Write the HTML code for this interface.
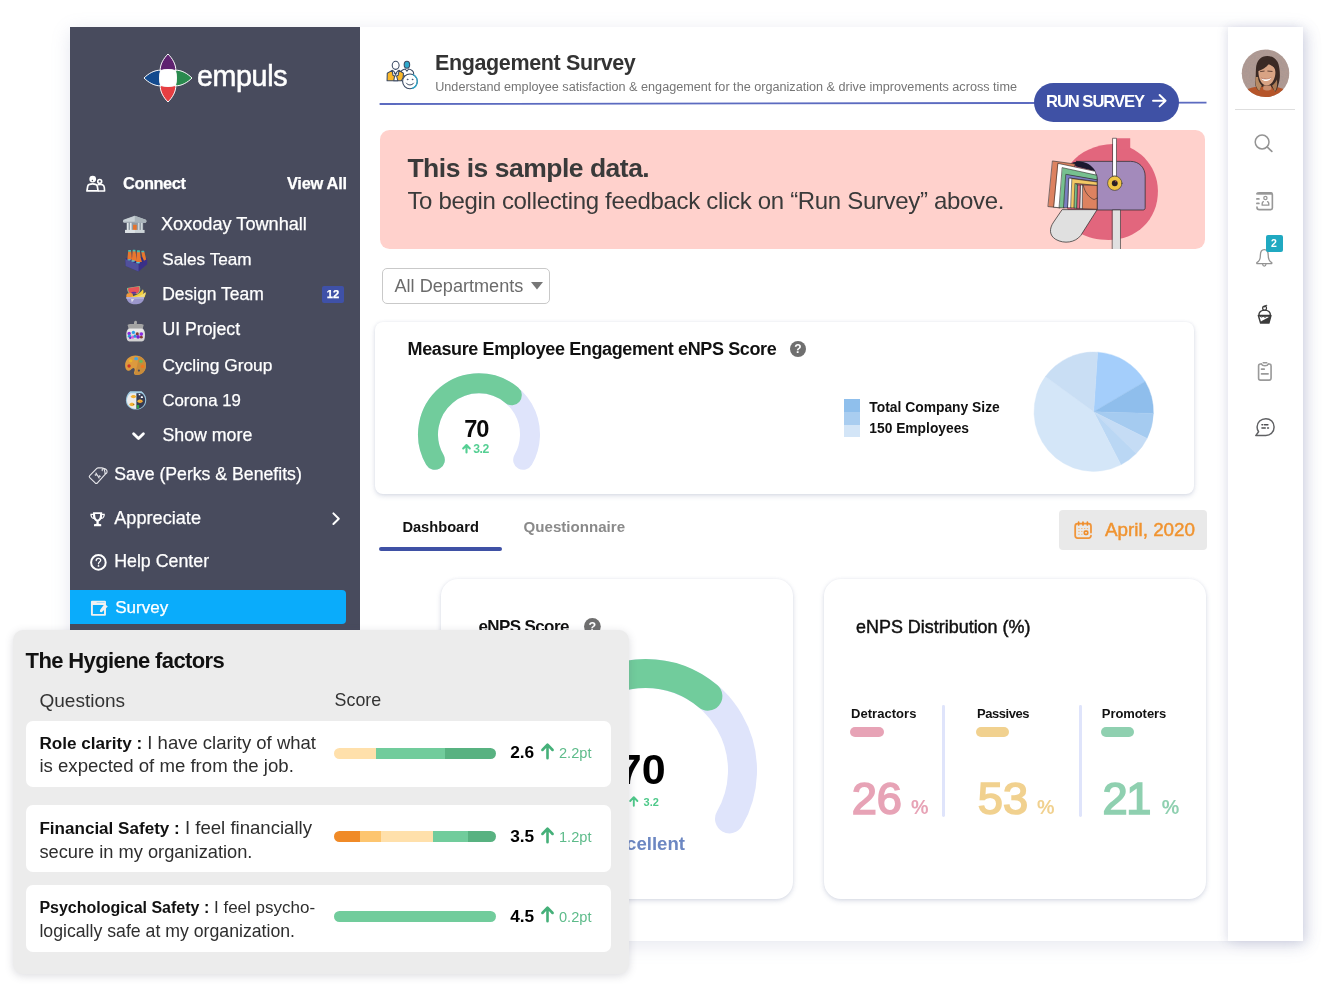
<!DOCTYPE html>
<html lang="en">
<head>
<meta charset="utf-8">
<title>Engagement Survey</title>
<style>
*{box-sizing:border-box;margin:0;padding:0}
html,body{width:1332px;height:987px;background:#fff;overflow:hidden}
body{font-family:"Liberation Sans",sans-serif;position:relative;color:#222}
.abs{position:absolute}
.t{position:absolute;white-space:nowrap;line-height:1}
svg{position:absolute;overflow:visible}
#win{position:absolute;left:70px;top:27px;width:1233px;height:914px;background:#fff;box-shadow:0 4px 18px rgba(125,135,175,.2)}
#side{position:absolute;left:70px;top:27px;width:290px;height:914px;background:#484b5d}
#side .t{color:#fff;-webkit-text-stroke:0.25px #fff}
#main{position:absolute;left:0;top:0;width:1332px;height:987px}
#rbar{position:absolute;left:1228px;top:27px;width:75px;height:914px;background:#fff;box-shadow:-3px 0 8px rgba(120,130,170,.15),5px 3px 12px rgba(120,130,170,.18)}
.card{position:absolute;background:#fff;box-shadow:0 2px 5px rgba(110,120,160,.24),0 0 3px rgba(110,120,160,.1)}
#hyg{position:absolute;left:12.8px;top:630.1px;width:616.6px;height:344.1px;background:#ececec;border-radius:10px;box-shadow:0 2px 9px rgba(80,80,100,.2)}
.row{position:absolute;left:14px;width:586px;background:#fff;border-radius:7px}
.bar{position:absolute;width:162px;height:11px;border-radius:6px;overflow:hidden;display:flex}
.bar i{display:block;height:11px}
.emo{position:absolute;font-size:20px;line-height:1}
</style>
</head>
<body>
<div id="win"></div>
<div id="side">
<svg style="left:73.5px;top:26.8px" width="48" height="48" viewBox="0 0 48 48"><g stroke="#fff" stroke-width="1" stroke-linejoin="round">
<path d="M24 0 C28.6 4.6 32 10.5 31.8 16.6 C27 15.2 21 15.2 16.2 16.6 C16 10.5 19.4 4.6 24 0Z" fill="#5f2370"/>
<path d="M48 24 C43.4 28.6 37.5 32 31.4 31.8 C32.8 27 32.8 21 31.4 16.2 C37.5 16 43.4 19.4 48 24Z" fill="#2a8a4e"/>
<path d="M24 48 C19.4 43.4 16 37.5 16.2 31.4 C21 32.8 27 32.8 31.8 31.4 C32 37.5 28.6 43.4 24 48Z" fill="#e63e42"/>
<path d="M0 24 C4.6 19.4 10.5 16 16.6 16.2 C15.2 21 15.2 27 16.6 31.8 C10.5 32 4.6 28.6 0 24Z" fill="#134a8e"/>
</g>
<path d="M16.4 16.4 C21 15 27 15 31.6 16.4 C33 21 33 27 31.6 31.6 C27 33 21 33 16.4 31.6 C15 27 15 21 16.4 16.4Z" fill="#fff"/></svg>
<div class="t" style="top:33.0px;font-size:28.6px;line-height:32px;left:127px;letter-spacing:-0.35px;-webkit-text-stroke:0.55px #fff;">empuls</div>
<svg style="left:6.0px;top:137.0px" width="40" height="40" viewBox="0 0 40 40"><g transform="scale(0.040527)" fill="none" stroke="#fff" stroke-linejoin="round" stroke-linecap="round">
<circle cx="412" cy="372" r="62" stroke-width="44" fill="#fff"/>
<circle cx="405" cy="405" r="18" fill="#484b5d" stroke="none"/>
<path d="M270 665 L290 545 C300 505 330 490 410 490 C490 490 515 505 525 545 L545 665 Z" stroke-width="42"/>
<circle cx="585" cy="430" r="48" stroke-width="40"/>
<path d="M545 510 C640 490 690 520 698 575 L705 665 L560 665" stroke-width="40"/>
</g></svg>
<div class="t" style="top:147.0px;font-size:16.4px;line-height:18px;left:53px;font-weight:bold;letter-spacing:-0.45px;">Connect</div>
<div class="t" style="top:147.0px;font-size:16.4px;line-height:18px;left:217px;font-weight:bold;letter-spacing:-0.28px;">View All</div>
<div class="t" style="top:187.0px;font-size:18.15px;line-height:20px;left:91px;">Xoxoday Townhall</div>
<div class="t" style="top:222.0px;font-size:17.21px;line-height:20px;left:92.19999999999999px;">Sales Team</div>
<div class="t" style="top:257.0px;font-size:17.48px;line-height:20px;left:92.19999999999999px;">Design Team</div>
<div class="t" style="top:292.0px;font-size:17.72px;line-height:20px;left:92.4px;">UI Project</div>
<div class="t" style="top:328.0px;font-size:17.36px;line-height:20px;left:92.4px;">Cycling Group</div>
<div class="t" style="top:364.0px;font-size:16.81px;line-height:19px;left:92.4px;">Corona 19</div>
<div class="t" style="top:398.0px;font-size:17.79px;line-height:20px;left:92.4px;">Show more</div>
<svg style="left:45.0px;top:178.0px" width="40" height="40" viewBox="0 0 40 40"><g transform="scale(0.040527)">
<path d="M230 440 C190 440 180 380 225 360 L485 265 L745 360 C790 380 780 440 740 440Z" fill="#bcc5cb"/>
<path d="M485 265 L745 360 C790 380 780 440 740 440 L485 440Z" fill="#aab4ba"/>
<path d="M250 395 C215 395 215 365 250 355 L485 275 L485 395Z" fill="#c9d1d6"/>
<rect x="285" y="440" width="410" height="180" fill="#8f9aa3"/>
<rect x="295" y="440" width="40" height="180" fill="#e1e6e9"/><rect x="370" y="440" width="40" height="180" fill="#e1e6e9"/>
<rect x="565" y="440" width="40" height="180" fill="#cfd6da"/><rect x="640" y="440" width="40" height="180" fill="#cfd6da"/>
<rect x="445" y="490" width="90" height="150" rx="8" fill="#e5732d"/>
<path d="M250 615 L730 615 L730 690 L250 690Z" fill="#cdd4d8"/>
<path d="M250 615 L490 615 L490 690 L250 690Z" fill="#dde2e5"/>
</g></svg>
<svg style="left:46.0px;top:213.0px" width="40" height="40" viewBox="0 0 40 40"><g transform="scale(0.040527)">
<path d="M230 470 L560 600 L770 460 L770 600 L555 780 L240 640Z" fill="#3a3088"/>
<path d="M230 470 L560 600 L555 780 L240 640Z" fill="#50509c"/>
<path d="M230 470 L440 360 L770 460 L560 600Z" fill="#2f2a80"/>
<path d="M625 290 L700 290 L745 480 L690 510 L650 420Z" fill="#e8772e"/>
<path d="M300 280 L375 280 L395 480 L280 480Z" fill="#e8772e"/>
<path d="M410 270 L480 270 L500 400 L520 520 L390 510Z" fill="#e8772e"/>
<path d="M515 285 L590 285 L610 440 L640 540 L500 545Z" fill="#e8772e"/>
<rect x="300" y="245" width="72" height="45" rx="10" fill="#45bdb0"/><rect x="412" y="238" width="68" height="45" rx="10" fill="#45bdb0"/>
<rect x="517" y="250" width="72" height="50" rx="10" fill="#45bdb0"/><rect x="625" y="265" width="72" height="35" rx="10" fill="#45bdb0"/>
<ellipse cx="330" cy="490" rx="50" ry="18" fill="#6ccfd0"/><ellipse cx="420" cy="520" rx="50" ry="18" fill="#6ccfd0"/><ellipse cx="545" cy="560" rx="55" ry="20" fill="#6ccfd0"/>
</g></svg>
<svg style="left:46.0px;top:248.0px" width="40" height="40" viewBox="0 0 40 40"><g transform="scale(0.040527)">
<path d="M275 320 C370 300 480 290 585 270 C615 340 600 420 540 470 L330 460 C285 420 270 370 275 320Z" fill="#8fc98a"/>
<path d="M298 325 C380 310 480 300 572 285 C592 345 580 410 530 455 L345 450 C305 415 292 370 298 325Z" fill="#e85458"/>
<ellipse cx="440" cy="440" rx="65" ry="28" fill="#6a2f9a"/>
<path d="M255 500 C265 450 320 430 380 450 C430 470 440 540 400 580 L270 570 C255 550 250 525 255 500Z" fill="#f29a3c"/>
<path d="M380 530 C500 510 610 440 665 350 C690 400 680 450 650 490 C690 470 715 445 730 420 C740 470 720 520 690 560 L400 590Z" fill="#f4d13c"/>
<path d="M400 560 C520 550 640 500 725 425 C735 470 715 520 690 560 L400 590Z" fill="#f2dc78"/>
<path d="M250 548 L695 548 L690 590 C660 690 570 720 470 720 C370 720 290 680 265 590Z" fill="#9b97cc"/>
<path d="M250 548 L695 548 L688 585 L258 585Z" fill="#b9b6dc"/>
<path d="M370 590 L450 590 L390 680Z" fill="#dcdce8"/>
</g></svg>
<svg style="left:46.0px;top:284.0px" width="40" height="40" viewBox="0 0 40 40"><g transform="scale(0.040527)">
<path d="M445 330 C440 270 450 240 485 240 C520 240 525 270 510 330Z" fill="#a9a9a9"/>
<path d="M290 350 C290 325 310 320 485 320 C660 320 680 325 680 350 L660 440 L310 440Z" fill="#a3a3a3"/>
<path d="M310 430 L660 430 C700 470 720 520 715 600 C712 700 690 745 640 745 L330 745 C280 745 258 700 255 600 C250 520 270 470 310 430Z" fill="#dcdcdc"/>
<path d="M330 440 L640 440 C660 460 675 490 680 520 L290 520 C295 490 310 460 330 440Z" fill="#e9e9e9"/>
<g><circle cx="325" cy="555" r="42" fill="#8a2be2"/><circle cx="430" cy="530" r="40" fill="#2a9fe8"/><circle cx="525" cy="565" r="38" fill="#8a3a32"/><circle cx="625" cy="570" r="45" fill="#8a2be2"/>
<circle cx="335" cy="620" r="42" fill="#2a9fd8"/><circle cx="410" cy="645" r="40" fill="#d060e0"/><circle cx="470" cy="620" r="38" fill="#2a8fe0"/><circle cx="545" cy="640" r="45" fill="#7a1fd0"/><circle cx="625" cy="645" r="36" fill="#8a3a32"/><circle cx="350" cy="665" r="28" fill="#7a1fd0"/></g>
<path d="M270 690 C285 735 305 745 330 745 L640 745 C665 745 685 735 700 690Z" fill="#d2d2d2"/>
</g></svg>
<svg style="left:46.0px;top:319.0px" width="40" height="40" viewBox="0 0 40 40"><g transform="scale(0.040527)">
<path d="M480 235 C640 235 745 350 740 480 C735 620 640 715 520 715 C465 715 430 690 445 650 C470 600 470 550 430 545 C390 545 370 610 320 612 C260 612 225 550 225 480 C225 340 330 235 480 235Z" fill="#dc9a3e"/>
<path d="M560 260 C670 290 745 380 740 480 C735 620 640 715 520 715 C490 715 465 705 452 690 C520 560 540 400 560 260Z" fill="#c98c3a"/>
<circle cx="565" cy="607" r="27" fill="#484b5d"/>
<ellipse cx="497" cy="313" rx="50" ry="40" fill="#4aa3e0"/><ellipse cx="362" cy="362" rx="42" ry="38" fill="#eab527"/><ellipse cx="615" cy="378" rx="45" ry="40" fill="#6cb85a"/>
<ellipse cx="322" cy="492" rx="42" ry="42" fill="#cc3328"/><ellipse cx="655" cy="503" rx="42" ry="42" fill="#f2761f"/>
</g></svg>
<svg style="left:46.0px;top:354.0px" width="40" height="40" viewBox="0 0 40 40"><g transform="scale(0.040527)">
<path d="M350 262 L630 262 C700 300 748 390 745 480 C740 610 640 705 495 705 C350 705 250 610 245 480 C242 390 285 300 350 262Z" fill="#9cc9e0"/>
<path d="M360 300 L505 300 L505 690 C370 690 275 600 270 480 C268 400 305 330 360 300Z" fill="#ececec"/>
<path d="M505 300 L625 300 C685 335 722 400 720 480 C716 595 625 688 505 690Z" fill="#363b52"/>
<path d="M350 262 L630 262 C645 270 655 280 665 292 L318 292 C328 280 338 270 350 262Z" fill="#a9d3e8"/>
<path d="M360 385 C390 330 470 330 505 385 C470 440 390 440 360 385Z" fill="#f2b233"/>
<path d="M325 580 C355 520 430 520 465 580 C430 635 355 635 325 580Z" fill="#f2b233"/>
<path d="M520 500 C550 440 635 440 665 500 C635 555 550 555 520 500Z" fill="#f2b233"/>
<circle cx="430" cy="575" r="12" fill="#4a3a2a"/><circle cx="610" cy="505" r="14" fill="#e8703a"/>
<rect x="560" y="318" width="40" height="36" rx="8" fill="#fff"/><rect x="612" y="378" width="52" height="44" rx="10" fill="#fff"/>
<rect x="515" y="595" width="55" height="85" rx="10" fill="#2ea043"/>
</g></svg>
<div class="abs" style="left:252px;top:259px;width:22px;height:17px;background:#3f51a8;border-radius:2px"></div>
<div class="t" style="top:261.0px;font-size:11.2px;line-height:12px;left:256.8px;font-weight:bold;">12</div>
<svg style="left:62.0px;top:404.6px" width="13" height="9" viewBox="0 0 13 9"><path d="M1.6 1.8 L6.5 6.6 L11.4 1.8" fill="none" stroke="#fff" stroke-width="2.8" stroke-linecap="round" stroke-linejoin="round"/></svg>
<svg style="left:10.0px;top:428.0px" width="40" height="40" viewBox="0 0 40 40"><g transform="scale(0.040527)" fill="none" stroke="#e6e6ea" stroke-width="28" stroke-linejoin="round" stroke-linecap="round">
<path d="M240 510 C225 525 225 545 240 560 L375 690 C392 705 412 705 430 690 L625 470 L600 360 C590 330 570 318 540 318 L450 318 C435 318 425 322 415 332 Z"/>
<path d="M548 385 C540 350 560 325 600 335 C640 345 680 385 665 430 C655 460 635 470 620 455"/>
<path d="M395 445 L470 570" stroke-width="26"/><circle cx="385" cy="490" r="16" stroke-width="22"/><circle cx="478" cy="525" r="16" stroke-width="22"/>
</g></svg>
<div class="t" style="top:437.0px;font-size:17.68px;line-height:20px;left:44.2px;">Save (Perks &amp; Benefits)</div>
<svg style="left:20.3px;top:485.4px" width="15.2" height="14.6" viewBox="0 0 16 16.8" preserveAspectRatio="none"><path d="M3.2 0.4 L12.8 0.4 L12.8 2 L15.6 2 C15.8 5.4 14.6 7.6 12 8.2 C11.2 9.6 10.2 10.4 9.2 10.8 L9.2 13.4 L11.8 14 L11.8 16.4 L4.2 16.4 L4.2 14 L6.8 13.4 L6.8 10.8 C5.8 10.4 4.8 9.6 4 8.2 C1.4 7.6 0.2 5.4 0.4 2 L3.2 2Z M1.8 3.4 C1.8 5 2.4 6.2 3.4 6.6 C3.2 5.6 3.2 4.6 3.2 3.4Z M14.2 3.4 L12.8 3.4 C12.8 4.6 12.8 5.6 12.6 6.6 C13.6 6.2 14.2 5 14.2 3.4Z M5.4 2.2 C5.4 5.6 6.2 8.6 8 8.6 C9.8 8.6 10.6 5.6 10.6 2.2Z" fill="#fff" fill-rule="evenodd"/></svg>
<div class="t" style="top:481.0px;font-size:18.16px;line-height:20px;left:44.2px;">Appreciate</div>
<svg style="left:262.2px;top:484.6px" width="8.4" height="13.4" viewBox="0 0 8.4 13.4"><path d="M1.4 1.4 L6.8 6.7 L1.4 12" fill="none" stroke="#fff" stroke-width="2" stroke-linecap="round" stroke-linejoin="round"/></svg>
<svg style="left:19.6px;top:526.6px" width="16.8" height="16.8" viewBox="0 0 16.8 16.8"><circle cx="8.4" cy="8.4" r="7.3" fill="none" stroke="#fff" stroke-width="2"/>
<path d="M6.2 6.6 C6.2 5.2 7.2 4.4 8.5 4.4 C9.8 4.4 10.7 5.2 10.7 6.3 C10.7 7.8 8.5 8 8.5 9.8" fill="none" stroke="#fff" stroke-width="1.3" stroke-linecap="round"/><circle cx="8.5" cy="11.9" r="0.9" fill="#fff"/></svg>
<div class="t" style="top:524.0px;font-size:17.8px;line-height:20px;left:44.2px;">Help Center</div>
<div class="abs" style="left:0;top:562.9px;width:275.8px;height:34.4px;background:#0aacfb;border-radius:0 4px 4px 0"></div>
<svg style="left:9.0px;top:561.0px" width="40" height="40" viewBox="0 0 40 40"><g transform="scale(0.040527)">
<path d="M320 315 L640 315 C656 315 665 324 665 340 L665 660 C665 676 656 685 640 685 L320 685 C304 685 295 676 295 660 L295 340 C295 324 304 315 320 315Z M342 420 L342 640 L618 640 L618 420Z" fill="#f1f1f1" fill-rule="evenodd"/>
<path d="M445 357 L620 357" stroke="#9ddcfb" stroke-width="22" stroke-linecap="round"/>
<path d="M610 420 L665 420 L710 458 L560 600 L515 585 L520 540Z" fill="#f1f1f1"/>
</g></svg>
<div class="t" style="top:571.0px;font-size:17.03px;line-height:19px;left:45.2px;">Survey</div>
</div>
<div id="main">
<svg style="left:382.0px;top:55.0px" width="40" height="40" viewBox="0 0 40 40"><g transform="scale(0.040527)" stroke="#3b4a63" stroke-width="26" stroke-linejoin="round" stroke-linecap="round">
<path d="M470 400 C500 370 540 350 575 345 L615 400 L655 345 C720 360 775 395 780 445 L780 520 L520 520Z" fill="#fff"/>
<ellipse cx="615" cy="240" rx="68" ry="85" fill="#2fa9cc"/>
<path d="M125 635 L130 450 L250 380 L335 470 L420 380 L530 450 L520 560 L480 635Z" fill="#fbb829"/>
<path d="M250 380 L290 400 L335 470 L380 400 L420 380 L400 500 L360 520 L390 635 L290 635 L310 520 L270 500Z" fill="#fff"/>
<path d="M300 450 L335 490 L370 450 M335 490 L335 520" fill="none" stroke-width="20"/>
<ellipse cx="337" cy="255" rx="85" ry="100" fill="#fff"/>
<circle cx="690" cy="650" r="182" fill="#fff" stroke-width="28"/>
<circle cx="630" cy="602" r="12" fill="#3b4a63" stroke-width="14"/><circle cx="752" cy="602" r="12" fill="#3b4a63" stroke-width="14"/>
<path d="M600 695 C640 755 740 755 780 695" fill="none" stroke-width="24"/>
</g>
<g transform="scale(0.040527)"><path d="M770 487 A182 182 0 0 1 745 823" fill="none" stroke="#2fa9cc" stroke-width="30" stroke-linecap="round"/></g></svg>
<div class="t" style="top:51.0px;font-size:21.5px;line-height:24px;left:435px;font-weight:bold;color:#333;letter-spacing:-0.37px;">Engagement Survey</div>
<div class="t" style="top:80.0px;font-size:12.65px;line-height:14px;left:435.2px;color:#757575;">Understand employee satisfaction &amp; engagement for the organization &amp; drive improvements across time</div>
<svg style="left:0.0px;top:0.0px" width="1332" height="200" viewBox="0 0 1332 200"><path d="M379.6 104 L1206.5 102.7" stroke="#5c6bc0" stroke-width="1.8"/></svg>
<div class="abs" style="left:1034px;top:82.7px;width:144.8px;height:39.6px;background:#3f51a5;border-radius:20px"></div>
<div class="t" style="top:92.0px;font-size:16.6px;line-height:19px;left:1046px;font-weight:bold;color:#fff;letter-spacing:-1.05px;">RUN SURVEY</div>
<svg style="left:1151.6px;top:94.4px" width="15" height="13.4" viewBox="0 0 15 13.4"><path d="M1 6.7 L13.4 6.7 M7.6 1 L13.6 6.7 L7.6 12.4" fill="none" stroke="#fff" stroke-width="1.9" stroke-linecap="round" stroke-linejoin="round"/></svg>
<div class="abs" style="left:379.7px;top:129.8px;width:825.6px;height:119.3px;background:#ffd1cc;border-radius:9.5px"></div>
<div class="t" style="top:153.0px;font-size:26.5px;line-height:30px;left:407.4px;font-weight:bold;color:#3a3a3a;letter-spacing:-0.5px;">This is sample data.</div>
<div class="t" style="top:187.0px;font-size:24px;line-height:27px;left:407.4px;color:#3a3a3a;letter-spacing:-0.32px;">To begin collecting feedback click on “Run Survey” above.</div>
<svg style="left:1040px;top:130px;overflow:hidden" width="165" height="119" viewBox="0 0 165 119"><g transform="scale(0.12158)" stroke-linejoin="round" stroke-linecap="round">
<path d="M255 272 C330 180 460 118 600 116 C800 118 968 290 970 500 C972 740 790 905 565 905 C470 905 390 885 330 850 L200 600Z" fill="#e2667d"/>
<rect x="628" y="68" width="114" height="92" fill="#e2667d"/>
<path d="M185 655 L470 655 L335 868 C290 925 200 940 130 900 C75 868 75 810 110 760Z" fill="#e0e0e0" stroke="#2b2b2b" stroke-width="6"/>
<path d="M300 258 L745 258 C815 258 865 310 865 380 L865 640 C865 652 858 658 846 658 L470 658 L470 400 C460 330 400 270 300 258Z" fill="#a38abb" stroke="#2b2b2b" stroke-width="6"/>
<path d="M262 272 C330 240 420 270 455 340 L300 300Z" fill="#1c1830"/>
<g stroke="#2b2b2b" stroke-width="5">
<path d="M105 255 L290 280 L160 640 L68 630Z" fill="#dd8260"/>
<path d="M150 275 L455 340 L462 375 L200 330 L165 640 L115 635Z" fill="#fff"/>
<path d="M185 310 L468 372 L470 412 L225 370 L200 640 L160 640Z" fill="#76c08f"/>
<path d="M215 365 L470 410 L470 425 L245 395 L232 640 L196 640Z" fill="#7b7fc0"/>
<path d="M240 395 L275 400 L262 640 L230 640Z" fill="#fff"/>
<path d="M265 400 L470 428 L470 456 L300 440 L285 642 L255 640Z" fill="#f3c864"/>
<path d="M290 440 L312 452 L305 645 L282 642Z" fill="#76c08f"/>
<path d="M310 452 L335 452 L330 645 L305 645Z" fill="#e2667d"/>
<path d="M335 452 L356 452 L352 647 L330 645Z" fill="#fff"/>
<path d="M352 452 L470 456 L470 652 L350 647Z" fill="#dd8260"/>
<path d="M356 456 C370 520 410 560 445 572 L470 560" fill="none"/>
</g>
<rect x="597" y="658" width="65" height="340" fill="#e0e0e0" stroke="#2b2b2b" stroke-width="5"/>
<rect x="600" y="68" width="29" height="312" fill="#fff" stroke="#2b2b2b" stroke-width="5"/>
<circle cx="615" cy="438" r="59" fill="#f0c544" stroke="#2b2b2b" stroke-width="5"/>
<circle cx="615" cy="438" r="24" fill="#2a2024"/>
<circle cx="624" cy="424" r="5" fill="#c8506a"/>
</g></svg>
<div class="abs" style="left:382px;top:268.4px;width:168px;height:35.6px;border:1px solid #c9c9c9;border-radius:5px;background:#fff"></div>
<div class="t" style="top:276.0px;font-size:18.11px;line-height:20px;left:394.5px;color:#6b6b6b;">All Departments</div>
<svg style="left:530.8px;top:282.0px" width="12" height="7.4" viewBox="0 0 12 7.4"><path d="M0 0 L12 0 L6 7.4Z" fill="#777"/></svg>
<div class="card" style="left:374.5px;top:322px;width:819.6px;height:171.5px;border-radius:8px"></div>
<div class="t" style="top:339.0px;font-size:18px;line-height:20px;left:407.6px;font-weight:bold;color:#111;letter-spacing:-0.38px;">Measure Employee Engagement eNPS Score</div>
<svg style="left:789.5px;top:340.6px" width="16" height="16" viewBox="0 0 16 16"><circle cx="8" cy="8" r="8" fill="#6f6f6f"/><text x="8" y="12.4" font-family="Liberation Sans,sans-serif" font-weight="bold" font-size="12.0" fill="#fff" text-anchor="middle">?</text></svg>
<svg style="left:410.0px;top:366.0px" width="140" height="112" viewBox="0 0 140 112"><path d="M24.83 93.80 A51 51 0 1 1 113.17 93.80" fill="none" stroke="#dfe4fb" stroke-width="20" stroke-linecap="round"/><path d="M24.83 93.80 A51 51 0 0 1 101.78 29.23" fill="none" stroke="#71cc9c" stroke-width="20" stroke-linecap="round"/></svg>
<div class="t" style="top:416.0px;font-size:23.6px;line-height:26px;left:464.2px;font-weight:bold;color:#0a0a0a;letter-spacing:-1px;">70</div>
<svg style="left:462.4px;top:444.2px" width="9" height="9" viewBox="0 0 9 9"><path d="M4.5 8.4 L4.5 1.4 M1.2 4.4 L4.5 1 L7.8 4.4" fill="none" stroke="#55cf93" stroke-width="2.1" stroke-linecap="round" stroke-linejoin="round"/></svg>
<div class="t" style="top:442.0px;font-size:12.2px;line-height:14px;left:473.2px;font-weight:bold;color:#55cf93;letter-spacing:-0.4px;">3.2</div>
<div class="abs" style="left:844px;top:399px;width:15.8px;height:13px;background:#8fbfec"></div>
<div class="abs" style="left:844px;top:412px;width:15.8px;height:13px;background:#a9cdf0"></div>
<div class="abs" style="left:844px;top:425px;width:15.8px;height:12.4px;background:#d3e5f7"></div>
<div class="t" style="top:399.0px;font-size:13.85px;line-height:16px;left:869.3px;font-weight:bold;color:#111;">Total Company Size</div>
<div class="t" style="top:421.0px;font-size:13.8px;line-height:15px;left:869.3px;font-weight:bold;color:#111;">150 Employees</div>
<svg style="left:1034.0px;top:351.6px" width="119.4" height="119.4" viewBox="0 0 119.4 119.4"><path d="M59.7 59.7 L63.66 0.13 A59.7 59.7 0 0 1 111.14 29.40Z" fill="#a4cefb" stroke="#a4cefb" stroke-width="0.4"/><path d="M59.7 59.7 L111.14 29.40 A59.7 59.7 0 0 1 119.37 61.47Z" fill="#8fbeec" stroke="#8fbeec" stroke-width="0.4"/><path d="M59.7 59.7 L119.37 61.47 A59.7 59.7 0 0 1 113.08 86.43Z" fill="#a5cbf0" stroke="#a5cbf0" stroke-width="0.4"/><path d="M59.7 59.7 L113.08 86.43 A59.7 59.7 0 0 1 102.21 101.62Z" fill="#c5dcf5" stroke="#c5dcf5" stroke-width="0.4"/><path d="M59.7 59.7 L102.21 101.62 A59.7 59.7 0 0 1 86.90 112.85Z" fill="#bad7f4" stroke="#bad7f4" stroke-width="0.4"/><path d="M59.7 59.7 L86.90 112.85 A59.7 59.7 0 0 1 11.40 24.61Z" fill="#d4e6f8" stroke="#d4e6f8" stroke-width="0.4"/><path d="M59.7 59.7 L11.40 24.61 A59.7 59.7 0 0 1 63.66 0.13Z" fill="#c9def4" stroke="#c9def4" stroke-width="0.4"/></svg>
<div class="t" style="top:519.0px;font-size:14.65px;line-height:16px;left:402.4px;font-weight:bold;color:#111;">Dashboard</div>
<div class="abs" style="left:379.2px;top:546.8px;width:122.9px;height:4.6px;background:#3f51a5;border-radius:2.3px"></div>
<div class="t" style="top:518.0px;font-size:15.1px;line-height:17px;left:523.6px;font-weight:bold;color:#8a8a8a;">Questionnaire</div>
<div class="abs" style="left:1059.3px;top:510.3px;width:147.4px;height:39.4px;background:#e9e9e9;border-radius:4px"></div>
<div class="t" style="top:519.0px;font-size:18.83px;line-height:21px;left:1105px;color:#f0932f;-webkit-text-stroke:0.45px #f0932f;">April, 2020</div>
<svg style="left:1062.0px;top:510.0px" width="40" height="40" viewBox="0 0 40 40"><g transform="scale(0.040527)" fill="none" stroke="#f0953a" stroke-linecap="round" stroke-linejoin="round">
<path d="M715 555 L715 400 C715 360 690 338 655 338 L385 338 C350 338 325 360 325 400 L325 630 C325 670 350 692 385 692 L655 692 C690 692 712 670 715 635" stroke-width="44"/>
<path d="M410 300 L410 370 M518 300 L518 370 M627 300 L627 370" stroke-width="42" stroke="#ef8d2a"/>
<path d="M410 458 L426 458 M482 458 L496 458 M552 458 L566 458 M622 458 L636 458 M410 528 L426 528 M482 528 L496 528 M410 600 L426 600 M482 600 L496 600" stroke-width="24" stroke="#f6b570"/>
<rect x="552" y="519" width="82" height="82" rx="22" stroke-width="42" stroke="#ef8d2a"/>
</g></svg>
<div class="card" style="left:440.7px;top:578.6px;width:352.5px;height:320px;border-radius:17px"></div>
<div class="t" style="top:617.0px;font-size:17px;line-height:19px;left:478.4px;font-weight:bold;color:#111;letter-spacing:-0.6px;">eNPS Score</div>
<svg style="left:584.0px;top:618.2px" width="16.8" height="16.8" viewBox="0 0 16.8 16.8"><circle cx="8.4" cy="8.4" r="8.4" fill="#6f6f6f"/><text x="8.4" y="13.0" font-family="Liberation Sans,sans-serif" font-weight="bold" font-size="12.6" fill="#fff" text-anchor="middle">?</text></svg>
<svg style="left:530.0px;top:655.0px" width="240" height="190" viewBox="0 0 240 190"><path d="M31.68 163.85 A96.9 96.9 0 1 1 199.52 163.85" fill="none" stroke="#dfe4fb" stroke-width="29" stroke-linecap="round"/><path d="M31.68 163.85 A96.9 96.9 0 0 1 177.89 41.17" fill="none" stroke="#71cc9c" stroke-width="29" stroke-linecap="round"/></svg>
<div class="t" style="top:745.0px;font-size:43px;line-height:48px;right:666.4px;font-weight:bold;color:#000;">70</div>
<svg style="left:629.0px;top:796.0px" width="9.6" height="10.6" viewBox="0 0 9.6 10.6"><path d="M4.8 9.8 L4.8 1.6 M1.2 5 L4.8 1.2 L8.4 5" fill="none" stroke="#4fc98a" stroke-width="1.9" stroke-linecap="round" stroke-linejoin="round"/></svg>
<div class="t" style="top:796.0px;font-size:11px;line-height:12px;left:643.6px;font-weight:bold;color:#4fc98a;">3.2</div>
<div class="t" style="top:833.0px;font-size:18.6px;line-height:21px;right:647px;font-weight:bold;color:#6c87c2;">Excellent</div>
<div class="card" style="left:824px;top:578.6px;width:381.7px;height:320px;border-radius:17px"></div>
<div class="t" style="top:617.0px;font-size:17.95px;line-height:20px;left:856px;color:#111;-webkit-text-stroke:0.45px #111;">eNPS Distribution (%)</div>
<div class="t" style="top:706.0px;font-size:13px;line-height:15px;left:851px;font-weight:bold;color:#111;letter-spacing:0.04px;">Detractors</div>
<div class="abs" style="left:850px;top:727.4px;width:33.8px;height:9.3px;background:#e7a3b6;border-radius:5px"></div>
<div class="t" style="top:773.0px;font-size:45.2px;line-height:51px;left:851.7px;color:#e7a3b6;-webkit-text-stroke:1.7px #e7a3b6;letter-spacing:0px;">26</div>
<div class="t" style="top:796.0px;font-size:19.7px;line-height:22px;left:911px;font-weight:bold;color:#e7a3b6;">%</div>
<div class="t" style="top:706.0px;font-size:13px;line-height:15px;left:977px;font-weight:bold;color:#111;letter-spacing:-0.46px;">Passives</div>
<div class="abs" style="left:975.7px;top:727.4px;width:33.8px;height:9.3px;background:#f1d18f;border-radius:5px"></div>
<div class="t" style="top:773.0px;font-size:45.2px;line-height:51px;left:977.8px;color:#f1d18f;-webkit-text-stroke:1.7px #f1d18f;letter-spacing:0px;">53</div>
<div class="t" style="top:796.0px;font-size:19.7px;line-height:22px;left:1037px;font-weight:bold;color:#f1d18f;">%</div>
<div class="t" style="top:706.0px;font-size:13px;line-height:15px;left:1101.8px;font-weight:bold;color:#111;letter-spacing:-0.07px;">Promoters</div>
<div class="abs" style="left:1100.7px;top:727.4px;width:33.8px;height:9.3px;background:#8fd0b0;border-radius:5px"></div>
<div class="t" style="top:773.0px;font-size:45.2px;line-height:51px;left:1102.5px;color:#8fd0b0;-webkit-text-stroke:1.7px #8fd0b0;letter-spacing:-1.5px;">21</div>
<div class="t" style="top:796.0px;font-size:19.7px;line-height:22px;left:1161.7px;font-weight:bold;color:#8fd0b0;">%</div>
<div class="abs" style="left:942px;top:705.4px;width:2.7px;height:112px;background:#dfe4fb;border-radius:1.4px"></div>
<div class="abs" style="left:1079.4px;top:705.4px;width:2.7px;height:112px;background:#dfe4fb;border-radius:1.4px"></div>
</div>
<div id="rbar">
<svg style="left:7.0px;top:16.0px" width="60" height="60" viewBox="0 0 60 60"><defs><clipPath id="avc"><circle cx="502" cy="499" r="391"/></clipPath>
<filter id="avn" x="0" y="0" width="100%" height="100%"><feTurbulence type="fractalNoise" baseFrequency="0.035" numOctaves="2" seed="3"/><feColorMatrix values="0 0 0 0 0.35  0 0 0 0 0.3  0 0 0 0 0.3  0 0 0 -2.2 1.25"/></filter></defs>
<g transform="scale(0.06079)"><g clip-path="url(#avc)">
<rect x="100" y="100" width="800" height="800" fill="#b09a93"/>
<rect x="100" y="100" width="800" height="800" filter="url(#avn)" opacity=".55"/>
<path d="M200 760 C300 720 420 700 540 705 C650 705 740 730 810 760 L840 900 L180 900Z" fill="#b5552a"/>
<path d="M345 420 C350 290 430 215 530 215 C650 215 720 300 730 420 C745 520 740 600 715 680 C700 740 690 780 660 800 L600 720 L430 720 L400 790 C350 760 325 700 335 620 C345 540 340 480 345 420Z" fill="#3b2a25"/>
<path d="M340 560 C330 650 335 730 400 790 L440 700 C400 660 380 610 380 560Z" fill="#b78a63"/>
<path d="M690 600 C700 680 690 760 655 800 L610 700 C650 670 670 640 690 600Z" fill="#a87a55"/>
<path d="M385 470 C380 400 430 350 520 350 C610 350 665 400 665 480 C665 590 600 700 520 700 C440 700 385 590 385 470Z" fill="#d8a384"/>
<path d="M470 700 L590 700 L600 760 C560 790 500 790 460 760Z" fill="#c98f70"/>
<path d="M360 470 C370 350 440 280 540 270 C640 275 690 340 700 440 C660 400 600 380 560 340 C520 400 440 440 360 470Z" fill="#3b2a25"/>
<path d="M430 575 C470 600 560 600 600 565 C580 640 460 650 430 575Z" fill="#fff"/>
<path d="M430 575 C470 600 560 600 600 565" fill="none" stroke="#a8604a" stroke-width="10"/>
<path d="M420 470 L480 462 M540 462 L610 468" stroke="#4a3028" stroke-width="14" stroke-linecap="round"/>
</g></g></svg>
<div class="abs" style="left:6.6px;top:81.5px;width:60px;height:1.8px;background:#dedede"></div>
<svg style="left:26.4px;top:107.0px" width="19" height="19" viewBox="0 0 19 19"><circle cx="8.1" cy="8" r="6.9" fill="none" stroke="#949494" stroke-width="1.5"/><path d="M13.1 12.9 L17.8 17.4" stroke="#949494" stroke-width="1.7" stroke-linecap="round"/></svg>
<svg style="left:16.0px;top:153.0px" width="40" height="40" viewBox="0 0 40 40"><g transform="scale(0.040527)" fill="none" stroke="#989898" stroke-linecap="round" stroke-linejoin="round">
<path d="M320 345 L320 335 C320 325 350 315 380 315 L660 315 C685 315 700 330 700 355 L700 690 C700 715 685 730 660 730 L380 730 C345 730 320 705 320 670" stroke-width="40"/>
<path d="M330 335 L690 335" stroke-width="56" stroke-linecap="butt"/>
<path d="M318 467 L368 467 M318 578 L368 578" stroke-width="42"/>
<circle cx="528" cy="445" r="40" stroke-width="32"/>
<path d="M478 535 C450 545 445 570 448 620 L612 620 C615 570 610 545 580 535" stroke-width="34"/>
</g></svg>
<svg style="left:27.8px;top:221.8px" width="16.6" height="18" viewBox="0 0 16.6 18"><g fill="none" stroke="#949494" stroke-width="1.3" stroke-linecap="round" stroke-linejoin="round"><path d="M8.3 0.6 C5.4 0.6 4.4 3 4.4 6 C4.4 10 3 12.6 0.8 13.6 L0.8 14.6 L15.8 14.6 L15.8 13.6 C13.6 12.6 12.2 10 12.2 6 C12.2 3 11.2 0.6 8.3 0.6Z"/><path d="M6.6 15 C6.8 16.6 7.4 17.2 8.3 17.2 C9.2 17.2 9.8 16.6 10 15"/></g></svg>
<div class="abs" style="left:37.8px;top:208px;width:16.8px;height:16.8px;background:#20a9c1;border-radius:2px"></div>
<div class="t" style="left:43.1px;top:211.4px;font-size:10.5px;font-weight:bold;color:#fff">2</div>
<svg style="left:17.0px;top:268.0px" width="40" height="40" viewBox="0 0 40 40"><g transform="scale(0.040527)" stroke="#3c3c3c" stroke-linejoin="round" stroke-linecap="round">
<path d="M345 500 C335 430 400 372 485 372 C570 372 635 430 625 500" fill="none" stroke-width="34"/>
<circle cx="483" cy="325" r="48" fill="#fff" stroke-width="30"/>
<path d="M470 300 C480 270 505 255 535 252" fill="none" stroke-width="28"/>
<path d="M330 505 L640 505 L590 690 L385 690Z" fill="#fff" stroke-width="36"/>
<path d="M640 520 L590 690 L385 690 L400 650Z" fill="#3c3c3c" stroke="none"/>
<path d="M350 510 L410 545 L450 515 L495 548 L540 515 L585 540 L630 510" fill="none" stroke-width="26"/>
</g></svg>
<svg style="left:16.0px;top:324.0px" width="40" height="40" viewBox="0 0 40 40"><g transform="scale(0.040527)" fill="none" stroke="#9a9a9a" stroke-linecap="round" stroke-linejoin="round">
<path d="M430 322 L405 322 C375 322 360 340 360 368 L360 670 C360 700 378 718 408 718 L620 718 C650 718 668 700 668 670 L668 368 C668 340 652 322 622 322 L600 322" stroke-width="40"/>
<path d="M430 322 C440 350 470 365 515 365 C560 365 590 350 600 322" stroke-width="38"/>
<path d="M475 290 L560 290" stroke-width="40"/>
<path d="M432 448 L500 448 M432 565 L595 565" stroke-width="40"/>
</g></svg>
<svg style="left:17.0px;top:380.0px" width="40" height="40" viewBox="0 0 40 40"><g transform="scale(0.040527)" fill="none" stroke="#5f6063" stroke-linecap="round" stroke-linejoin="round">
<path d="M515 288 C630 288 718 378 718 495 C718 612 630 705 515 705 L265 705 L335 610 C310 575 298 540 298 495 C298 378 395 288 515 288Z" stroke-width="36"/>
<path d="M418 437 L436 437 M480 437 L565 437 M418 517 L500 517 M558 517 L580 517" stroke-width="36" stroke="#4e4f52"/>
</g></svg>
</div>
<div id="hyg">
<div class="t" style="top:17.9px;font-size:22px;line-height:25px;left:12.8px;font-weight:bold;color:#111;letter-spacing:-0.62px;">The Hygiene factors</div>
<div class="t" style="top:59.9px;font-size:19.06px;line-height:21px;left:26.599999999999998px;color:#333;">Questions</div>
<div class="t" style="top:59.9px;font-size:17.84px;line-height:20px;left:321.8px;color:#333;">Score</div>
<div class="row" style="left:13.0px;top:91.0px;height:66.1px;width:584.8px"></div>
<div class="row" style="left:13.0px;top:175.3px;height:66.4px;width:584.8px"></div>
<div class="row" style="left:13.0px;top:254.6px;height:66.9px;width:584.8px"></div>
<div class="t" style="left:26.6px;top:101.9px;font-size:18.5px;line-height:21px;color:#2e2e2e"><span style="font-size:17.14px;font-weight:bold;color:#111;">Role clarity :</span><span style="font-size:18.5px;">&nbsp;I have clarity of what</span></div>
<div class="t" style="left:26.6px;top:124.9px;font-size:18.61px;line-height:21px;color:#2e2e2e"><span style="font-size:18.61px;">is expected of me from the job.</span></div>
<div class="t" style="left:26.6px;top:186.9px;font-size:18.6px;line-height:21px;color:#2e2e2e"><span style="font-size:17.07px;font-weight:bold;color:#111;">Financial Safety :</span><span style="font-size:18.6px;">&nbsp;I feel financially</span></div>
<div class="t" style="left:26.6px;top:210.9px;font-size:18.26px;line-height:21px;color:#2e2e2e"><span style="font-size:18.26px;">secure in my organization.</span></div>
<div class="t" style="left:26.6px;top:267.9px;font-size:17.0px;line-height:19px;color:#2e2e2e"><span style="font-size:16.0px;font-weight:bold;color:#111;">Psychological Safety :</span><span style="font-size:17.0px;">&nbsp;I feel psycho-</span></div>
<div class="t" style="left:26.6px;top:290.9px;font-size:17.69px;line-height:20px;color:#2e2e2e"><span style="font-size:17.69px;">logically safe at my organization.</span></div>
<div class="bar" style="left:320.8px;top:118.3px;width:162.3px;height:11.1px"><i style="width:42.4px;background:#ffe0ab"></i><i style="width:69.1px;background:#71cc9c"></i><i style="width:50.8px;background:#58b281"></i></div>
<div class="bar" style="left:320.8px;top:201.3px;width:162.3px;height:11.1px"><i style="width:26.8px;background:#f08a27"></i><i style="width:20.6px;background:#fdc56f"></i><i style="width:52.0px;background:#ffe0ab"></i><i style="width:35.2px;background:#71cc9c"></i><i style="width:27.7px;background:#58b281"></i></div>
<div class="bar" style="left:320.8px;top:280.9px;width:162.3px;height:11.1px"><i style="width:162.3px;background:#71cc9c"></i></div>
<div class="t" style="top:111.9px;font-size:17.3px;line-height:20px;left:497.4px;font-weight:bold;color:#000;">2.6</div>
<svg style="left:528.4px;top:113.0px" width="13" height="16.4" viewBox="0 0 13 16.4"><path d="M6.5 15.2 L6.5 2 M1.4 7 L6.5 1.6 L11.6 7" fill="none" stroke="#45b079" stroke-width="2.6" stroke-linecap="round" stroke-linejoin="round"/></svg>
<div class="t" style="top:114.9px;font-size:14.6px;line-height:16px;left:546.2px;color:#5dbb8a;">2.2pt</div>
<div class="t" style="top:195.9px;font-size:17.3px;line-height:20px;left:497.4px;font-weight:bold;color:#000;">3.5</div>
<svg style="left:528.4px;top:197.0px" width="13" height="16.4" viewBox="0 0 13 16.4"><path d="M6.5 15.2 L6.5 2 M1.4 7 L6.5 1.6 L11.6 7" fill="none" stroke="#45b079" stroke-width="2.6" stroke-linecap="round" stroke-linejoin="round"/></svg>
<div class="t" style="top:198.9px;font-size:14.6px;line-height:16px;left:546.2px;color:#5dbb8a;">1.2pt</div>
<div class="t" style="top:275.9px;font-size:17.3px;line-height:20px;left:497.4px;font-weight:bold;color:#000;">4.5</div>
<svg style="left:528.4px;top:276.3px" width="13" height="16.4" viewBox="0 0 13 16.4"><path d="M6.5 15.2 L6.5 2 M1.4 7 L6.5 1.6 L11.6 7" fill="none" stroke="#45b079" stroke-width="2.6" stroke-linecap="round" stroke-linejoin="round"/></svg>
<div class="t" style="top:278.9px;font-size:14.6px;line-height:16px;left:546.2px;color:#5dbb8a;">0.2pt</div>
</div>
</body>
</html>
